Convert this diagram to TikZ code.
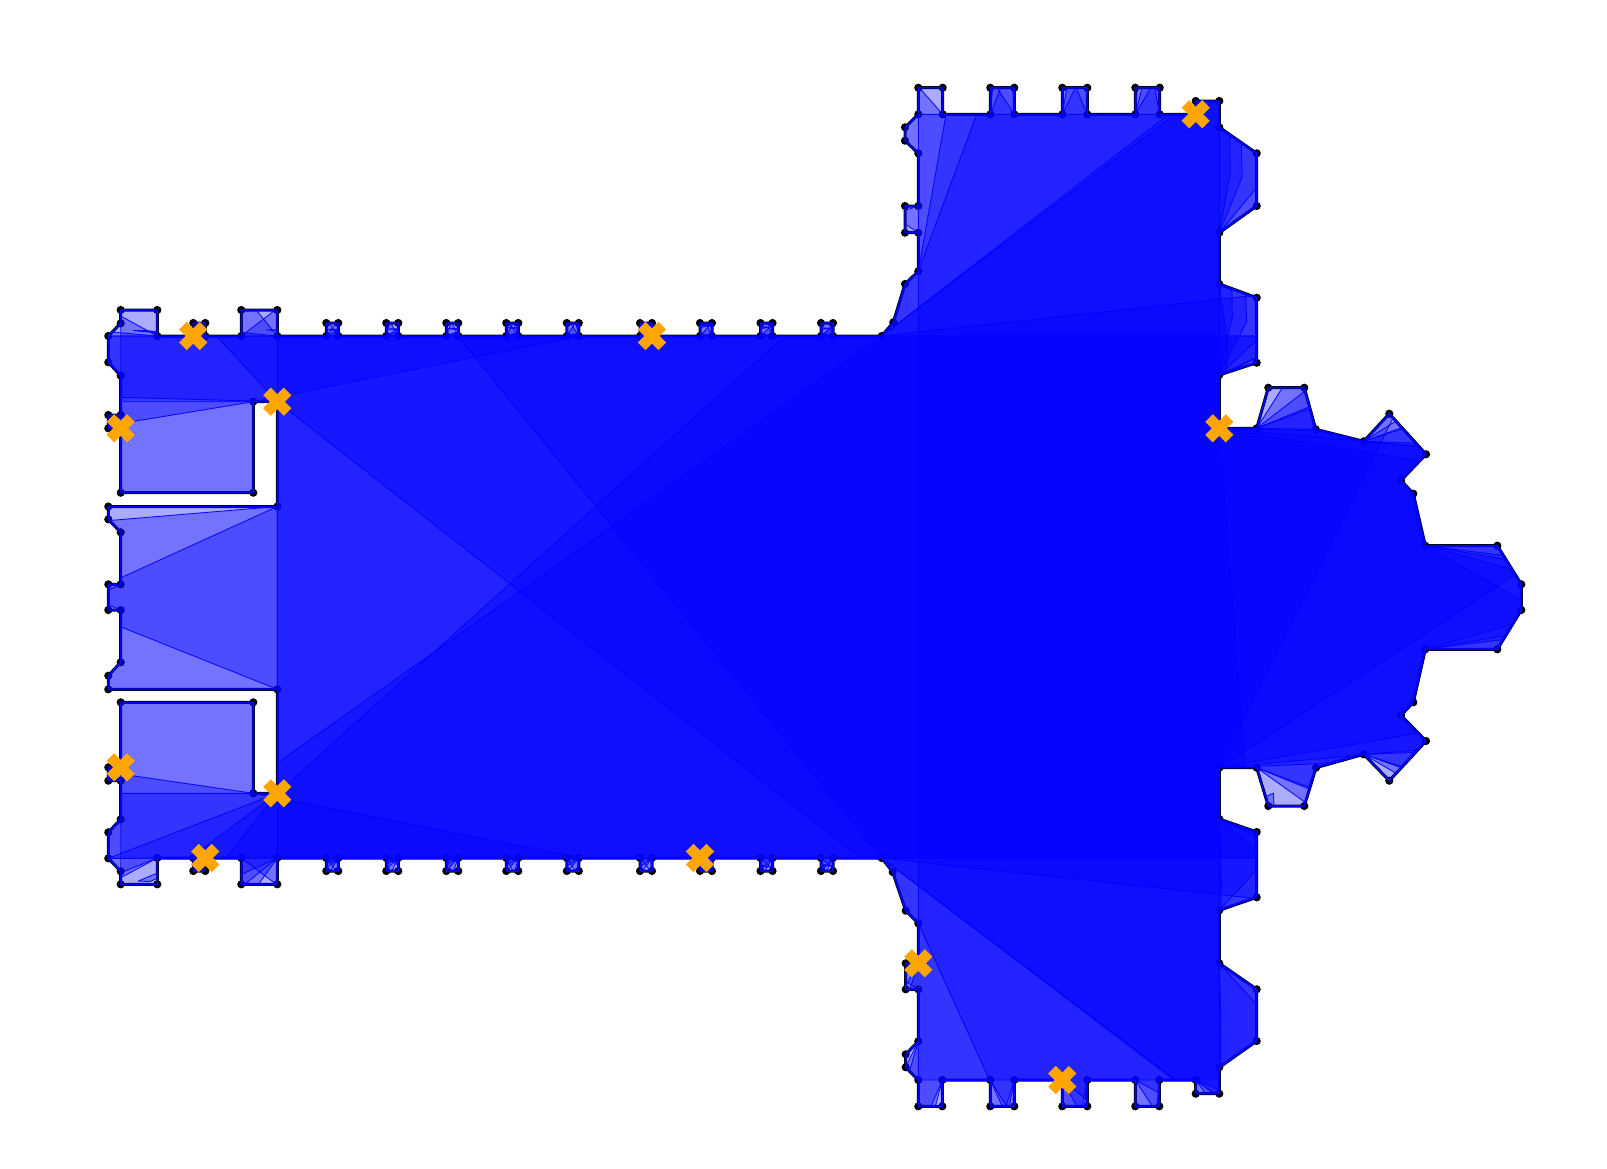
\documentclass[tikz,border=0pt]{standalone}
\usetikzlibrary{calc}
\tikzset{
  vis/.style={fill=blue,fill opacity=.33,draw=blue,draw opacity=.9,line width=.9pt,line join=round},
  guardmark/.style={draw={rgb,255:red,255;green,165;blue,0},line width=10.7pt,line cap=butt},
  wallblack/.style={draw=black,line width=3pt,line join=round},
  wallblue/.style={draw=blue,line width=1.5pt,line join=round}
}
% building outline, after its first vertex 120.7/310
\def\Vlist{157.3/310,157.3/336,193.3/336,193.3/323,205.3/323,205.3/336,241.3/336,241.3/310,277.3/310,277.3/336,
326.3/336,326.3/323,338.3/323,338.3/336,386.3/336,386.3/323,398.3/323,398.3/336,446.3/336,446.3/323,458.3/323,458.3/336,
506.3/336,506.3/323,518.3/323,518.3/336,566.8/336,566.8/323,578.8/323,578.8/336,640/336,640/323,652/323,652/336,
700/336,700/323,712/323,712/336,760.5/336,760.5/323,772.5/323,772.5/336,821/336,821/323,833/323,833/336,
881.7/336,893.3/322.3,905/284,918.3/271.3,918.3/232.7,905/232.7,905/206,918.3/206,918.3/153.3,905/140.7,905/127.3,918.3/114.3,
918.3/87.7,942.7/87.7,942.7/114.3,990.3/114.3,990.3/87.7,1014.3/87.7,1014.3/114.3,1062.3/114.3,1062.3/87.7,1087.3/87.7,1087.3/114.3,
1135.3/114.3,1135.3/87.7,1159.7/87.7,1159.7/114.3,1195.7/114.3,1195.7/101,1219.3/101,1219.3/127.3,1256.7/153.3,1256.7/206,1219.3/232.7,
1219.3/284,1256.7/297.7,1256.7/362.7,1219.3/375,1219.3/428.3,1256.7/428.3,1268.3/387.7,1304.3/387.7,1315.7/429.3,1363.7/441.3,
1389.3/413.7,1426/454.3,1401/480.3,1413.3/493.7,1425.3/545.7,1497.3/545.7,1521.3/584.3,1521.3/610,1497.3/649.3,1425.3/649.3,
1413.3/702.3,1401/715.3,1426/741,1389.3/780.7,1363.7/754.3,1316/767.7,1304.3/806,1268.3/806,1256.7/767.7,1219.3/767.7,1219.3/819,
1256.7/832,1256.7/897.3,1219.3/910.3,1219.3/963.3,1256.7/989.3,1256.7/1041,1219.3/1067.3,1219.3/1093.7,1195.7/1093.7,1195.7/1080,
1159.3/1080,1159.3/1106.3,1135.3/1106.3,1135.3/1080,1087.3/1080,1087.3/1106.3,1062.3/1106.3,1062.3/1080,1014.3/1080,1014.3/1106.3,
990.3/1106.3,990.3/1080,942.3/1080,942.3/1106.3,918.3/1106.3,918.3/1080,905.7/1067.3,905.7/1054.3,918.3/1041.3,918.3/989.3,
905.7/989.3,905.7/963.3,918.3/963.3,918.3/923.3,905.7/910.7,892.7/872,881.7/858,
833/858,833/871,821/871,821/858,772.5/858,772.5/871,760.5/871,760.5/858,712/858,712/871,700/871,700/858,652/858,652/871,640/871,640/858,
578.8/858,578.8/871,566.8/871,566.8/858,518.3/858,518.3/871,506.3/871,506.3/858,458.3/858,458.3/871,446.3/871,446.3/858,
398.3/858,398.3/871,386.3/871,386.3/858,338.3/858,338.3/871,326.3/871,326.3/858,
277.3/858,277.3/884.3,241.3/884.3,241.3/858,205.3/858,205.3/871,193.3/871,193.3/858,157.3/858,157.3/884.3,120.7/884.3,120.7/871.3,
108.3/858.3,108.3/832.3,120.7/819.3,120.7/780.7,108.3/780.7,108.3/767.3,120.7/767.3,120.7/702.3,253.3/702.3,253.3/793.3,277.3/793.3,
277.3/689.3,108.3/689.3,108.3/675.7,120.7/662.3,120.7/610,108.3/610,108.3/584.3,120.7/584.3,120.7/532.3,108.3/519.3,108.3/506.5,
277.3/506.5,277.3/401.7,253.3/401.7,253.3/492.7,120.7/492.7,120.7/428.3,108.3/428.3,108.3/415,120.7/415,120.7/375.7,108.3/362.3,
108.3/336,120.7/323.3}
% window seen from guard (g): wedge through opening #1--#2
\def\WW#1#2{-- (#1) -- ($(#1)!60pt!180:(g)$) -- ($(#2)!60pt!180:(g)$) -- (#2)}
% ray from (g) through #1, run on by #2 pt
\def\XT#1#2{-- ($(#1)!#2pt!180:(g)$)}
\def\nta{\WW{326.3,336}{338.3,336}}\def\ntb{\WW{386.3,336}{398.3,336}}\def\ntc{\WW{446.3,336}{458.3,336}}
\def\ntd{\WW{506.3,336}{518.3,336}}\def\nte{\WW{566.8,336}{578.8,336}}\def\ntf{\WW{640,336}{652,336}}
\def\ntg{\WW{700,336}{712,336}}\def\nth{\WW{760.5,336}{772.5,336}}\def\nti{\WW{821,336}{833,336}}
\def\nba{\WW{338.3,858}{326.3,858}}\def\nbb{\WW{398.3,858}{386.3,858}}\def\nbc{\WW{458.3,858}{446.3,858}}
\def\nbd{\WW{518.3,858}{506.3,858}}\def\nbe{\WW{578.8,858}{566.8,858}}\def\nbf{\WW{652,858}{640,858}}
\def\nbg{\WW{712,858}{700,858}}\def\nbh{\WW{772.5,858}{760.5,858}}\def\nbi{\WW{833,858}{821,858}}
\def\NTall{\nta\ntb\ntc\ntd\nte\ntf\ntg\nth\nti}
\def\NBall{\nbi\nbh\nbg\nbf\nbe\nbd\nbc\nbb\nba}
\def\tta{\WW{918.3,114.3}{942.7,114.3}}\def\ttb{\WW{990.3,114.3}{1014.3,114.3}}\def\ttc{\WW{1062.3,114.3}{1087.3,114.3}}
\def\ttd{\WW{1135.3,114.3}{1159.7,114.3}}\def\tte{\WW{1195.7,114.3}{1219.3,114.3}}
\def\tbe{\WW{1219.3,1080}{1195.7,1080}}\def\tbd{\WW{1159.3,1080}{1135.3,1080}}\def\tbc{\WW{1087.3,1080}{1062.3,1080}}
\def\tbb{\WW{1014.3,1080}{990.3,1080}}\def\tba{\WW{942.3,1080}{918.3,1080}}
\def\ra{\WW{1219.3,127.3}{1219.3,232.7}}\def\rb{\WW{1219.3,284}{1219.3,375}}
\def\rc{\WW{1219.3,819}{1219.3,910.3}}\def\rd{\WW{1219.3,963.3}{1219.3,1067.3}}
\def\Uone{\WW{1256.7,428.3}{1315.7,429.3}}\def\Utwo{\WW{1363.7,441.3}{1426,454.3}}
\def\Ltwo{\WW{1426,741}{1363.7,754.3}}\def\Lone{\WW{1316,767.7}{1256.7,767.7}}
\def\ltwo{\WW{918.3,232.7}{918.3,206}}\def\lone{\WW{918.3,153.3}{918.3,114.3}}
\def\lbone{\WW{918.3,1080}{918.3,1041.3}}\def\lbtwo{\WW{918.3,989.3}{918.3,963.3}}
\def\atwo{\WW{241.3,336}{277.3,336}}\def\aone{\WW{193.3,336}{205.3,336}}\def\Tzero{\WW{108.3,336}{157.3,336}}
\def\atwob{\WW{277.3,858}{241.3,858}}\def\aoneb{\WW{205.3,858}{193.3,858}}\def\Tzerob{\WW{157.3,858}{108.3,858.3}}
\def\bu{\WW{120.7,610}{120.7,584.3}}
\def\bumpA{\WW{120.7,428.3}{120.7,415}}\def\bumpB{\WW{120.7,780.7}{120.7,767.3}}
\def\aplow{-- (1521.3,610) -- (1497.3,649.3) -- (1425.3,649.3) -- (1413.3,702.3) -- (1401,715.3) \Ltwo \Lone -- (1219.3,767.7)}
\def\apup{\Uone \Utwo -- (1401,480.3) -- (1413.3,493.7) -- (1425.3,545.7) -- (1497.3,545.7) -- (1521.3,584.3)}
\def\Bldg{(120.7,310) \foreach \p/\q in \Vlist {-- (\p,\q)} -- cycle}
\begin{document}
\begin{tikzpicture}[x=1pt,y=-1pt]
\useasboundingbox (0,0) rectangle (1607,1168);
\path[wallblack] \Bldg;
\fill (120.7,310) circle[radius=4.1pt];
\foreach \p/\q in \Vlist {\fill (\p,\q) circle[radius=4.1pt];}
\begin{scope}
\clip \Bldg;
% guard 1
\coordinate (g) at (193.3,336);
\path[vis] (g) -- (193.3,323) -- (205.3,323) -- (205.3,336) -- (881.7,336) -- (1256.7,336) -- (1256.7,362.7) -- (1219.3,375) -- (1219.3,428.3) \XT{1219.3,428.3}{220} -- (1426,454.3) -- (1401,480.3) -- (1413.3,493.7) -- (1425.3,545.7) \XT{1425.3,545.7}{110} \aplow \rc \rd \tbe -- (1174,1080) -- (881.7,858) -- (860.8,858) -- (277.3,401.7) -- (253.3,401.7) -- (253.3,492.7) -- (120.7,492.7) \bumpA -- (120.7,375.7) -- (108.3,362.3) -- (108.3,336) -- cycle;
% guard 2
\coordinate (g) at (277.3,401.7);
\path[vis] (g) -- (120.7,401.7) -- (120.7,375.7) -- (108.3,362.3) \Tzero \aone \atwo \NTall -- (881.7,336) -- (1256.7,295.2) -- (1256.7,362.7) -- (1219.3,375) -- (1219.3,428.3) -- (1322,431) -- (1363.7,441.3) \XT{1363.7,441.3}{80} -- (1426,454.3) -- (1401,480.3) -- (1413.3,493.7) -- (1425.3,545.7) \XT{1425.3,545.7}{110} \aplow \rc \rd \tbe -- (1175.7,1080) -- (881.7,858) \NBall -- (277.3,858) -- cycle;
% guard 3
\coordinate (g) at (120.7,428.3);
\path[vis] (g) -- (108.3,428.3) -- (108.3,415) -- (120.7,415) -- (120.7,310) -- (157.3,310) -- (157.3,336) \aone \atwo \nta \ntb \ntc \ntd \nte -- (580,336) -- (253.3,401.7) -- (253.3,492.7) -- (120.7,492.7) -- cycle;
% guard 4
\coordinate (g) at (652,336);
\path[vis] (g) -- (881.7,336) -- (1256.7,336) -- (1256.7,362.7) -- (1219.3,375) -- (1219.3,428.3) \XT{1219.3,428.3}{210} -- (1401,480.3) -- (1413.3,493.7) -- (1425.3,545.7) \XT{1425.3,545.7}{110} \aplow \rc \rd \tbe \tbd \tbc \tbb -- (989.5,1080) -- (918.3,923.3) -- (905.7,910.7) -- (892.7,872) -- (881.7,858) \NBall \atwob -- (226,858) -- (277.3,793.3) -- (277.3,689.3) -- (108.3,689.3) -- (108.3,675.7) -- (120.7,662.3) \bu -- (120.7,577.8) -- (277.3,506.5) -- (277.3,401.7) -- (253.3,401.7) -- (120.7,423.5) -- (120.7,375.7) -- (108.3,362.3) -- (108.3,336) -- (640,336) -- (640,323) -- (652,323) -- cycle;
% guard 5
\coordinate (g) at (1195.7,114.3);
\path[vis] (g) -- (1195.7,101) -- (1219.3,101) \ra \rb -- (1219.3,428.3) -- (1244.8,767.7) -- (1219.3,767.7) \rc \rd \tbe \tbd \tbc \tbb \tba \lbone \lbtwo -- (918.3,923.3) -- (905.7,910.7) -- (892.7,872) -- (881.7,858) \NBall \atwob \aoneb -- (190,858) -- (277.3,793.3) -- (277.3,763) -- (881.7,336) -- (893.3,322.3) -- (905,284) -- (918.3,271.3) \ltwo \lone -- cycle;
% guard 6
\coordinate (g) at (1219.3,428.3);
\path[vis] (g) -- (1256.7,428.3) -- (1315.7,429.3) \Utwo -- (1401,480.3) -- (1413.3,493.7) -- (1425.3,545.7) \XT{1425.3,545.7}{110} \aplow \tbe \tbd \tbc \tbb \tba \lbone \lbtwo -- (918.3,923.3) -- (905.7,910.7) -- (892.7,872) -- (881.7,858) \NBall \atwob \aoneb \Tzerob -- (277.3,793.3) -- (277.3,689.3) -- (108.3,689.3) -- (108.3,675.7) -- (120.7,662.3) \bu -- (120.7,532.3) -- (108.3,520.6) -- (277.3,506.5) -- (277.3,401.7) -- (120.7,397.3) -- (120.7,375.7) -- (108.3,362.3) \Tzero \aone \atwo \NTall -- (881.7,336) -- (893.3,322.3) -- (905,284) -- (918.3,271.3) \ltwo \lone \tta \ttb \ttc \ttd \tte -- cycle;
% guard 7
\coordinate (g) at (277.3,793.3);
\path[vis] (g) -- (277.3,336) \NTall -- (881.7,336) -- (1175,114.3) -- (1195.7,114.3) \tte \ra \rb -- (1219.3,428.3) \apup \XT{1425.3,649.3}{110} -- (1425.3,649.3) -- (1413.3,702.3) -- (1401,715.3) -- (1426,741) \XT{1363.7,754.3}{90} -- (1363.7,754.3) -- (1322,763.6) -- (1219.3,767.7) -- (1219.3,819) -- (1256.7,832) -- (1256.7,898.6) -- (881.7,858) \NBall \atwob \aoneb \Tzerob -- (108.3,832.3) -- (120.7,819.3) -- (120.7,793.3) -- cycle;
% guard 8
\coordinate (g) at (120.7,767.3);
\path[vis] (g) -- (120.7,702.3) -- (253.3,702.3) -- (253.3,793.3) -- (583,858) \nbe \nbd \nbc \nbb \nba \atwob \aoneb -- (157.3,858) -- (157.3,884.3) -- (120.7,884.3) -- (120.7,780.7) -- (108.3,780.7) -- (108.3,767.3) -- cycle;
% guard 9
\coordinate (g) at (205.3,858);
\path[vis] (g) -- (205.3,871) -- (193.3,871) -- (193.3,858) -- (108.3,858.3) -- (108.3,832.3) -- (120.7,819.3) \bumpB -- (120.7,702.3) -- (253.3,702.3) -- (253.3,793.3) -- (277.3,793.3) -- (785,336) \nti -- (881.7,336) -- (1168.9,114.3) -- (1195.7,114.3) \tte \ra \rb -- (1219.3,428.3) \apup -- (1521.3,610) \XT{1425.3,649.3}{110} -- (1425.3,649.3) -- (1413.3,702.3) -- (1401,715.3) -- (1426,741) \XT{1219.3,767.7}{220} -- (1219.3,767.7) -- (1219.3,819) -- (1256.7,832) -- (1256.7,858) -- (881.7,858) -- cycle;
% guard 10
\coordinate (g) at (700,858);
\path[vis] (g) -- (108.3,858.3) -- (108.3,832.3) -- (120.7,819.3) -- (120.7,780.7) -- (120.7,774) -- (253.3,793.3) -- (277.3,793.3) -- (277.3,689.3) -- (120.7,626.8) \bu -- (120.7,532.3) -- (108.3,519.3) -- (108.3,506.5) -- (277.3,506.5) -- (277.3,401.7) -- (216.5,336) \atwo \NTall -- (881.7,336) -- (893.3,322.3) -- (905,284) -- (918.3,271.3) -- (976.6,114.3) \ttb \ttc \ttd \tte \ra \rb -- (1219.3,428.3) \apup -- (1521.3,610) \XT{1425.3,649.3}{110} -- (1425.3,649.3) -- (1413.3,702.3) -- (1401,715.3) \XT{1219.3,767.7}{220} -- (1219.3,767.7) -- (1219.3,819) -- (1256.7,832) -- (1256.7,858) -- (712,858) -- (712,871) -- (700,871) -- cycle;
% guard 11
\coordinate (g) at (918.3,963.3);
\path[vis] (g) -- (918.3,923.3) -- (918.3,114.3) \tta \ttb \ttc \ttd \tte \ra \rb -- (1219.3,428.3) \Uone \Utwo -- (1401,480.3) -- (1413.3,493.7) -- (1425.3,545.7) -- (1497.3,545.7) -- (1515,575) -- (1219.3,767.7) \rc \rd \tbe \tbd \tbc \tbb \tba -- (918.3,989.3) -- (905.7,989.3) -- (905.7,963.3) -- cycle;
% guard 12
\coordinate (g) at (1062.3,1080);
\path[vis] (g) -- (918.3,1080) \lbone \lbtwo -- (918.3,923.3) -- (905.7,910.7) -- (892.7,872) -- (881.7,858) -- (457.6,336) \ntd \nte \ntf \ntg \nth \nti -- (881.7,336) -- (893.3,322.3) -- (905,284) -- (918.3,271.3) -- (946,114.3) \ttb \ttc \ttd \tte \ra \rb -- (1219.3,428.3) \Uone -- (1363.7,441.3) -- (1389.3,413.7) -- (1393,418) -- (1219.3,767.7) \rc \rd \tbe \tbd -- (1087.3,1080) -- (1087.3,1106.3) -- (1062.3,1106.3) -- cycle;
\end{scope}
\path[wallblue] \Bldg;
\foreach \p/\q in {193.3/336,277.3/401.7,120.7/428.3,652/336,1195.7/114.3,1219.3/428.3,277.3/793.3,120.7/767.3,205.3/858,700/858,918.3/963.3,1062.3/1080}{
  \draw[guardmark] (\p-10.3,\q-10.3) -- (\p+10.3,\q+10.3);
  \draw[guardmark] (\p-10.3,\q+10.3) -- (\p+10.3,\q-10.3);
}
\end{tikzpicture}
\end{document}
